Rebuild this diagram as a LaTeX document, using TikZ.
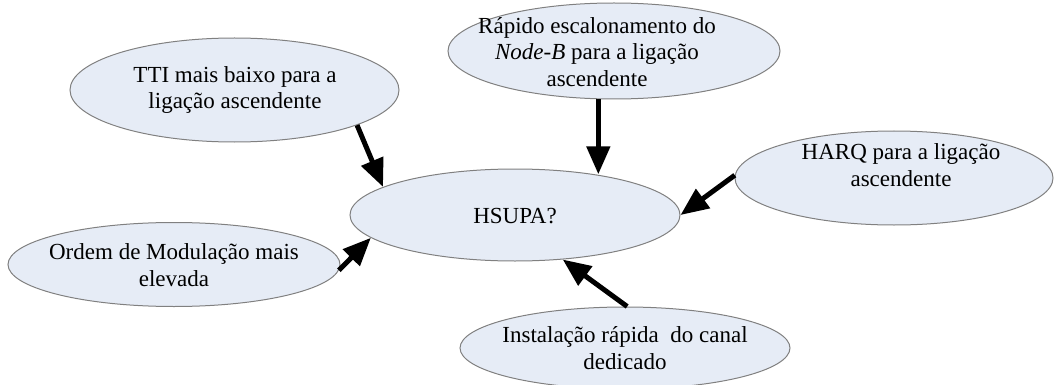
\documentclass[tikz,border=0pt]{standalone}
\usepackage{fontspec}
\setmainfont{Liberation Serif}
\usetikzlibrary{shapes.geometric,arrows.meta,calc}
\definecolor{efill}{RGB}{230,236,246}
\definecolor{eline}{RGB}{128,128,128}
\begin{document}
\begin{tikzpicture}[x=0.5pt,y=-0.5pt,
  bubble/.style={ellipse,draw=eline,line width=0.5pt,fill=efill,inner sep=0pt},
  lbl/.style={align=center,font=\fontsize{11.5}{13.2}\selectfont,inner sep=0pt},
  bigarrow/.style={line width=2.5pt,-{Triangle[length=14pt,width=11.5pt]}}]
\useasboundingbox (0,0) rectangle (1054,385);
% ellipses
\node[bubble,minimum width=164.5pt,minimum height=52pt] (tti) at (234.5,90) {};
\node[bubble,minimum width=166pt,minimum height=48pt] (rapido) at (614,51) {};
\node[bubble,minimum width=159pt,minimum height=47pt] (harq) at (894,178) {};
\node[bubble,minimum width=166pt,minimum height=42pt] (ordem) at (174,264.5) {};
\node[bubble,minimum width=165pt,minimum height=41pt] (inst) at (625,348) {};
\node[bubble,minimum width=165pt,minimum height=46pt] (hsupa) at (515,215) {};
% labels
\node[lbl] (tti-t) at (235,90) {TTI mais baixo para a\\ligação ascendente};
\node[lbl] (rapido-t) at (597,52) {Rápido escalonamento do\\\textit{Node-B} para a ligação\\ascendente};
\node[lbl] (harq-t) at (901,165) {HARQ para a ligação\\ascendente};
\node[lbl] (ordem-t) at (174,265) {Ordem de Modulação mais\\elevada};
\node[lbl] (inst-t) at (625,348) {Instalação rápida\ \ do canal\\dedicado};
\node[lbl] (hsupa-t) at (515,216) {HSUPA?};
% arrows
\draw[bigarrow] (tti.-16) -- (hsupa.168);
\draw[bigarrow] (rapido.-108) -- (rapido.-108 |- hsupa.27);
\draw[bigarrow] (harq.179) -- (hsupa.east);
\draw[bigarrow] (ordem.-2) -- (hsupa.189);
\draw[bigarrow] (inst.87) -- (hsupa.-43);
\end{tikzpicture}
\end{document}
